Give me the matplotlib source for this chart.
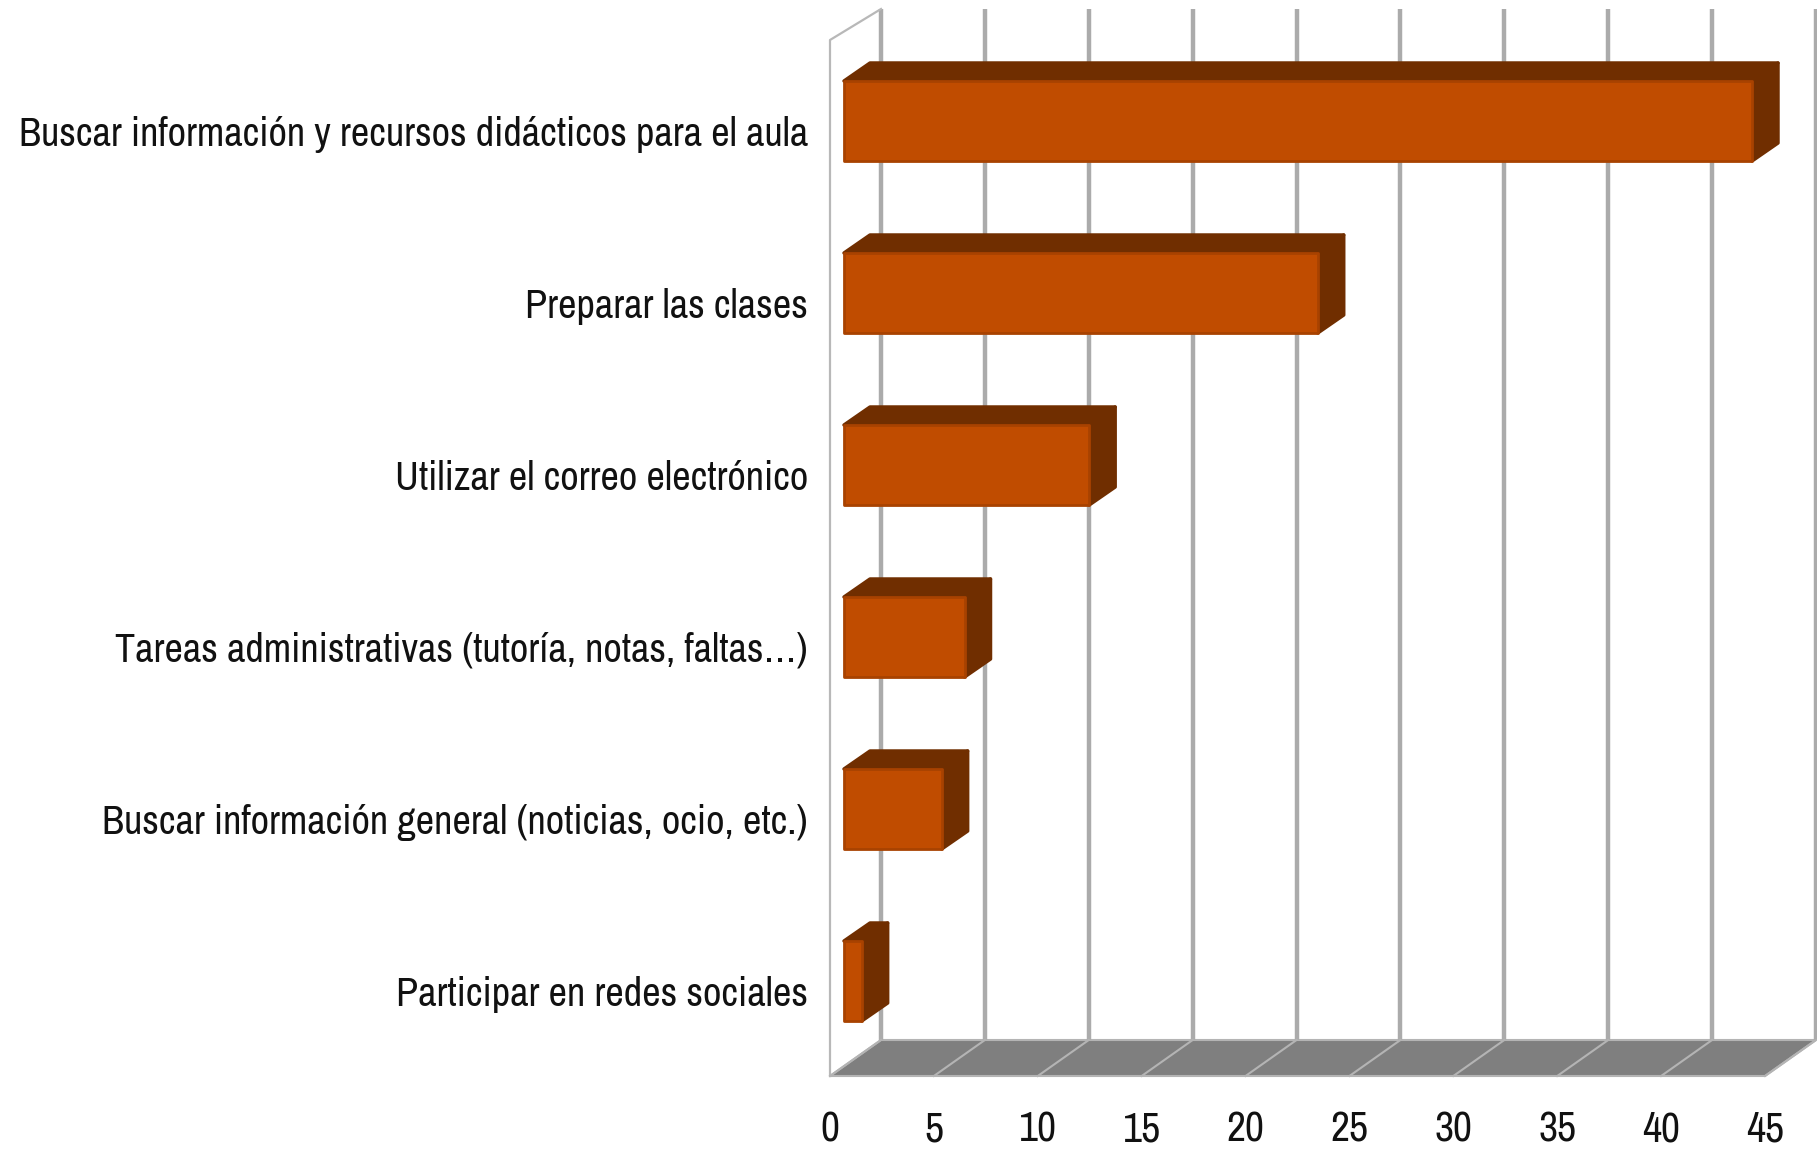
import matplotlib
matplotlib.use("Agg")
import matplotlib.pyplot as plt
from matplotlib.patches import Polygon
from matplotlib.transforms import ScaledTranslation

categories = [
    "Buscar información y recursos didácticos para el aula",
    "Preparar las clases",
    "Utilizar el correo electrónico",
    "Tareas administrativas (tutoría, notas, faltas…)",
    "Buscar información general (noticias, ocio, etc.)",
    "Participar en redes sociales",
]
values = [43.7, 22.8, 11.8, 5.8, 4.7, 0.85]
xticks = [0, 5, 10, 15, 20, 25, 30, 35, 40, 45]

W, H = 1817, 1151
plt.rcParams["font.family"] = ["Archivo Narrow", "Roboto Condensed", "Liberation Sans", "DejaVu Sans"]

fig = plt.figure(figsize=(W / 100, H / 100), dpi=100, facecolor="white")
L, R, T, B = 830, 1765, 40, 1076
ax = fig.add_axes([L / W, 1 - B / H, (R - L) / W, (B - T) / H])
px_x = (R - L) / 45
px_y = 172
ax.set_xlim(0, 45)
ax.set_ylim((B - 121) / px_y, (T - 121) / px_y)
for s in ax.spines.values():
    s.set_visible(False)
ax.patch.set_alpha(0)

dx = 51 / px_x
dy_wall = 31 / px_y
dy_floor = 36 / px_y
ymin, ymax = ax.get_ylim()

grey = "#ABABAB"
ax.add_patch(Polygon([(0, ymin), (45, ymin), (45 + dx, ymin - dy_floor), (dx, ymin - dy_floor)],
                     closed=True, fc="#7F7F7F", ec="#B4B4B4", lw=1.5, clip_on=False, zorder=1))
for t in xticks:
    ax.plot([t, t + dx], [ymin, ymin - dy_floor], color="#B4B4B4", lw=1.5, clip_on=False, zorder=1.5)
    ax.plot([t + dx, t + dx], [ymin - dy_floor, ymax - dy_wall], color=grey, lw=3.2, clip_on=False, zorder=1,
            solid_capstyle="butt")
ax.plot([0, 0, dx], [ymin, ymax, ymax - dy_wall], color="#B8B8B8", lw=1.6, clip_on=False, zorder=1)

front = "#C04C00"
dark = "#702E00"
inset = 14 / px_x
bh = 80 / px_y
bx = 26 / px_x
by = 18 / px_y
for i, v in enumerate(values):
    x0, x1 = inset, inset + v
    y0, y1 = i - bh / 2, i + bh / 2
    ax.add_patch(Polygon([(x0, y0), (x1, y0), (x1 + bx, y0 - by), (x0 + bx, y0 - by)],
                         closed=True, fc=dark, ec=dark, lw=2.5, joinstyle="round", zorder=3, clip_on=False))
    ax.add_patch(Polygon([(x1, y0), (x1 + bx, y0 - by), (x1 + bx, y1 - by), (x1, y1)],
                         closed=True, fc=dark, ec=dark, lw=2.5, joinstyle="round", zorder=3, clip_on=False))
ax.barh(range(len(values)), values, left=inset, height=bh, color=front, edgecolor="#A84200",
        linewidth=2, joinstyle="round", zorder=4)

ax.set_xticks(xticks)
ax.set_xticklabels([str(t) for t in xticks])
ax.set_yticks(range(len(categories)))
ax.set_yticklabels(categories)
ax.tick_params(axis="x", length=0, pad=25, labelsize=30, labelcolor="#111111")
ax.tick_params(axis="y", length=0, pad=16, labelsize=29, labelcolor="#111111")
shift = ScaledTranslation(0, -10 / 100, fig.dpi_scale_trans)
for lab in ax.get_yticklabels():
    lab.set_transform(lab.get_transform() + shift)

fig.savefig("out.png", dpi=100, facecolor="white")
